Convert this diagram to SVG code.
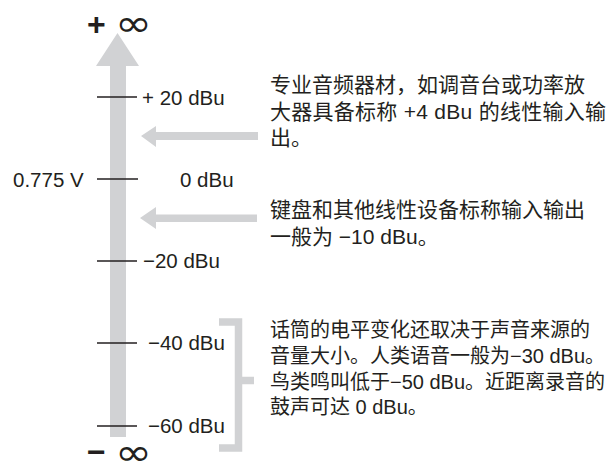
<svg xmlns="http://www.w3.org/2000/svg" width="610" height="461" viewBox="0 0 610 461">
<style>
.arr{fill:#d1d2d4;stroke:none}
.brk{fill:none;stroke:#d1d2d4;stroke-width:7.5}
.tick{stroke:#231f20;stroke-width:1.3}
.lbl{font-family:"Liberation Sans",Arial,sans-serif;font-size:20.5px;fill:#231f20}
.cjk{font-family:"Liberation Sans","Noto Sans CJK SC",sans-serif;font-size:21px;fill:#231f20}
.cjk3{font-family:"Liberation Sans","Noto Sans CJK SC",sans-serif;font-size:20px;fill:#231f20}
.sym{font-family:"Liberation Sans",Arial,sans-serif;font-weight:bold;font-size:32px;fill:#231f20}
.inf{font-family:"DejaVu Sans",sans-serif;font-size:37px;fill:#231f20}
</style>
<rect width="610" height="461" fill="#ffffff"/>
<g id="connectors">
<polygon class="arr" points="117.5,33 139,66 126,66 126,437 110,437 110,66 96,66"/>
<polygon class="arr" points="141,136 156,126 156,132 258,132 258,140 156,140 156,147"/>
<polygon class="arr" points="140,218 156,207 156,214.5 257,214.5 257,222 156,222 156,229"/>
<path class="brk" d="M219 322 H238.5 V448 H219 M238.5 380.5 H254"/>
</g>
<g id="scale">
<line class="tick" x1="97" y1="97" x2="137" y2="97"/>
<line class="tick" x1="97" y1="179" x2="138" y2="179"/>
<line class="tick" x1="97" y1="261" x2="137" y2="261"/>
<line class="tick" x1="97" y1="343" x2="137" y2="343"/>
<line class="tick" x1="97" y1="426" x2="137" y2="426"/>
</g>
<g id="top">
<text class="sym" x="87" y="34.5">+</text>
<text class="inf" transform="translate(115,35.5) scale(1.2,1)" x="0" y="0">∞</text>
</g>
<g id="bottom">
<text class="sym" x="87" y="463">−</text>
<text class="inf" transform="translate(115,465) scale(1.2,1)" x="0" y="0">∞</text>
</g>
<g id="labels">
<text class="lbl" x="142" y="104.5">+ 20 dBu</text>
<text class="lbl" x="13" y="187">0.775 V</text>
<text class="lbl" x="180" y="187">0 dBu</text>
<text class="lbl" x="143" y="268">−20 dBu</text>
<text class="lbl" x="148" y="350">−40 dBu</text>
<text class="lbl" x="148" y="433">−60 dBu</text>
</g>
<g id="note1">
<text class="cjk" x="270" y="92">专业音频器材，如调音台或功率放</text>
<text class="cjk" x="270" y="118.5" textLength="336" lengthAdjust="spacing">大器具备标称 +4 dBu 的线性输入输</text>
<text class="cjk" x="270" y="145">出。</text>
</g>
<g id="note2">
<text class="cjk" x="270" y="217">键盘和其他线性设备标称输入输出</text>
<text class="cjk" x="270" y="244">一般为 −10 dBu。</text>
</g>
<g id="note3">
<text class="cjk3" x="270" y="337">话筒的电平变化还取决于声音来源的</text>
<text class="cjk3" x="270" y="363">音量大小。人类语音一般为−30 dBu。</text>
<text class="cjk3" x="270" y="389">鸟类鸣叫低于−50 dBu。近距离录音的</text>
<text class="cjk3" x="270" y="414">鼓声可达 0 dBu。</text>
</g>
</svg>
